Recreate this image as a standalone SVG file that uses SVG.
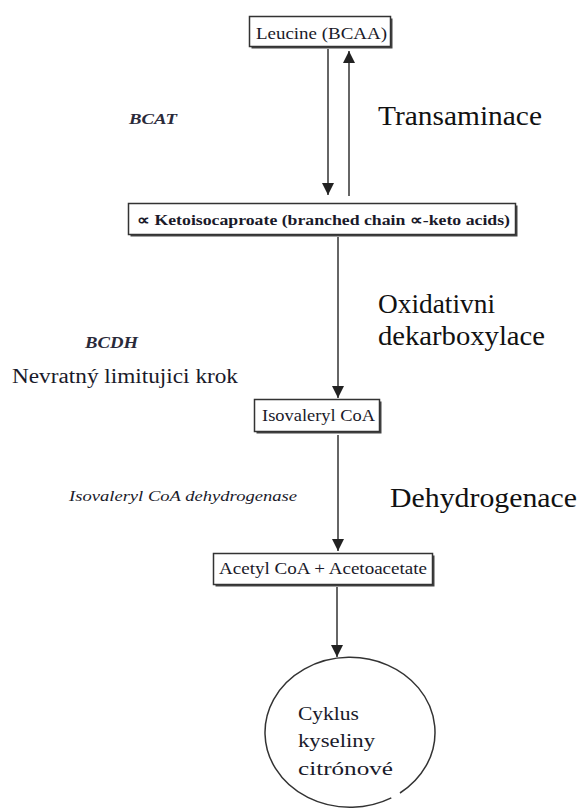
<svg xmlns="http://www.w3.org/2000/svg" width="581" height="810" viewBox="0 0 581 810">
<style>
.box{fill:#fff;stroke:#333;stroke-width:1.5}
.shadow{fill:#444}
text{font-family:'Liberation Serif','Times New Roman',serif}
.bt{fill:#1a1a2a}
.big{font-size:28px;fill:#111}
.enz{font-style:italic;font-weight:bold;fill:#2a2a3a}
.conn{stroke:#333;stroke-width:1.5;fill:none}
</style>
<defs>
<marker id="ah" markerUnits="userSpaceOnUse" markerWidth="12" markerHeight="12" viewBox="0 0 12 12" refX="12" refY="6" orient="auto">
<path d="M0,0 L12,6 L0,12 Z" fill="#222"/>
</marker>
</defs>
<rect width="581" height="810" fill="#fff"/>
<g id="connectors">
<line class="conn" x1="328" y1="49" x2="328" y2="195" marker-end="url(#ah)"/>
<line class="conn" x1="349" y1="196" x2="349" y2="51" marker-end="url(#ah)"/>
<line class="conn" x1="338" y1="237" x2="338" y2="398" marker-end="url(#ah)"/>
<line class="conn" x1="338" y1="435" x2="338" y2="551" marker-end="url(#ah)"/>
<line class="conn" x1="337" y1="587" x2="337" y2="657" marker-end="url(#ah)"/>
</g>
<g id="leucine">
<rect class="shadow" x="251.5" y="18.5" width="141" height="30"/>
<rect class="box" x="249.5" y="16.5" width="141" height="30"/>
<text class="bt" x="256" y="39" font-size="16" textLength="131" lengthAdjust="spacingAndGlyphs">Leucine (BCAA)</text>
</g>
<g id="keto">
<rect class="shadow" x="130.5" y="205.5" width="387" height="31"/>
<rect class="box" x="128.5" y="203.5" width="387" height="31"/>
<text class="bt" x="137" y="225" font-size="15" font-weight="bold" textLength="373" lengthAdjust="spacingAndGlyphs">∝ Ketoisocaproate (branched chain ∝-keto acids)</text>
</g>
<g id="isovaleryl">
<rect class="shadow" x="256.5" y="401.5" width="125" height="32"/>
<rect class="box" x="254.5" y="399.5" width="125" height="32"/>
<text class="bt" x="262" y="421" font-size="16" textLength="113" lengthAdjust="spacingAndGlyphs">Isovaleryl CoA</text>
</g>
<g id="acetyl">
<rect class="shadow" x="215.5" y="555.5" width="219" height="31"/>
<rect class="box" x="213.5" y="553.5" width="219" height="31"/>
<text class="bt" x="219" y="574" font-size="16" textLength="208" lengthAdjust="spacingAndGlyphs">Acetyl CoA + Acetoacetate</text>
</g>
<g id="cycle">
<path d="M391.3,797.9 A85,75 0 1 1 400,793" fill="none" stroke="#333" stroke-width="1.5"/>
<text class="bt" x="298" y="720" font-size="19" textLength="61" lengthAdjust="spacingAndGlyphs">Cyklus</text>
<text class="bt" x="298" y="747" font-size="19" textLength="77" lengthAdjust="spacingAndGlyphs">kyseliny</text>
<text class="bt" x="298" y="775" font-size="19" textLength="95" lengthAdjust="spacingAndGlyphs">citrónové</text>
</g>
<g id="labels">
<text class="enz" x="129" y="124" font-size="15" textLength="48" lengthAdjust="spacingAndGlyphs">BCAT</text>
<text class="big" x="378" y="125" textLength="164" lengthAdjust="spacingAndGlyphs">Transaminace</text>
<text class="big" x="378" y="313" textLength="117" lengthAdjust="spacingAndGlyphs">Oxidativni</text>
<text class="big" x="378" y="345" textLength="167" lengthAdjust="spacingAndGlyphs">dekarboxylace</text>
<text class="enz" x="85" y="348" font-size="16" textLength="53" lengthAdjust="spacingAndGlyphs">BCDH</text>
<text class="bt" x="12" y="383" font-size="20" textLength="226" lengthAdjust="spacingAndGlyphs">Nevratný limitujici krok</text>
<text class="bt" x="69" y="501" font-size="15" font-style="italic" textLength="228" lengthAdjust="spacingAndGlyphs">Isovaleryl CoA dehydrogenase</text>
<text class="big" x="390" y="507" font-size="29" textLength="187" lengthAdjust="spacingAndGlyphs">Dehydrogenace</text>
</g>
</svg>
